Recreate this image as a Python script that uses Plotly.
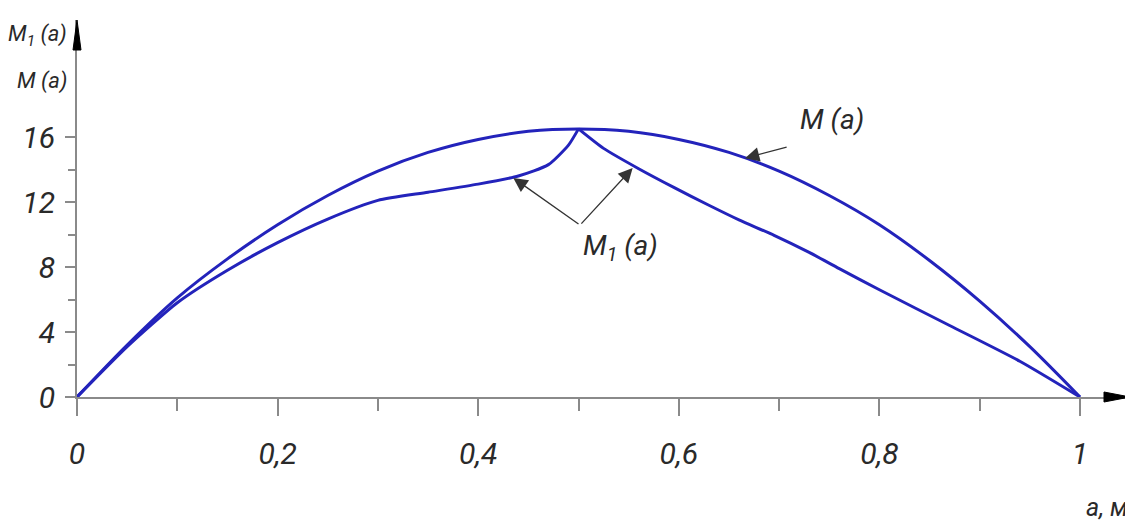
import plotly.graph_objects as go

# ---- data ----
a_M = [0, 0.05, 0.1, 0.15, 0.2, 0.25, 0.3, 0.35, 0.4, 0.45, 0.5,
       0.55, 0.6, 0.65, 0.7, 0.75, 0.8, 0.85, 0.9, 0.95, 1.0]
M_vals = [0, 3.2, 6.1, 8.5, 10.6, 12.4, 13.9, 15.05, 15.85, 16.35, 16.5,
          16.35, 15.85, 15.05, 13.9, 12.4, 10.6, 8.4, 5.9, 3.1, 0]

a_M1 = [0, 0.05, 0.1, 0.15, 0.2, 0.25, 0.3, 0.35, 0.4, 0.44, 0.47, 0.49, 0.5,
        0.525, 0.56, 0.595, 0.63, 0.66, 0.695, 0.73, 0.76, 0.8, 0.87, 0.94, 1.0]
M1_vals = [0, 3.1, 5.8, 7.8, 9.5, 10.95, 12.1, 12.6, 13.1, 13.6, 14.3, 15.5, 16.5,
           15.3, 14.05, 12.9, 11.8, 10.9, 9.95, 8.9, 7.9, 6.6, 4.4, 2.2, 0]

x_tickvals = [0, 0.2, 0.4, 0.6, 0.8, 1.0]
x_ticktext = ["0", "0,2", "0,4", "0,6", "0,8", "1"]
x_minor = [0.1, 0.3, 0.5, 0.7, 0.9]
y_tickvals = [0, 4, 8, 12, 16]
y_ticktext = ["0", "4", "8", "12", "16"]
y_minor = [2, 6, 10, 14]

FONT = "Liberation Sans Narrow, Roboto, Liberation Sans"
TXT = "#2a2a2a"
AX = "#8a8a8a"
BLUE = "#2323bb"

# page body has an 8px margin: figure is sized to fit the window exactly
W, H = 1125, 516
L, R, T, B = 69, 3, 12, 127
px_per_x = 1003.0
px_per_y = 16.25
xmax = (W - L - R) / px_per_x
ymax = (H - T - B) / px_per_y

fig = go.Figure()
fig.add_trace(go.Scatter(x=a_M, y=M_vals, mode="lines",
                         line=dict(color=BLUE, width=3, shape="spline", smoothing=0.8),
                         hoverinfo="skip", showlegend=False))
peak = M1_vals.index(max(M1_vals))
fig.add_trace(go.Scatter(x=a_M1[:peak + 1], y=M1_vals[:peak + 1], mode="lines",
                         line=dict(color=BLUE, width=3, shape="spline", smoothing=0.6),
                         hoverinfo="skip", showlegend=False))
fig.add_trace(go.Scatter(x=a_M1[peak:], y=M1_vals[peak:], mode="lines",
                         line=dict(color=BLUE, width=3, shape="spline", smoothing=0.6),
                         hoverinfo="skip", showlegend=False))

tickfont = dict(family=FONT, size=30, color=TXT, style="italic")

fig.update_xaxes(range=[0, xmax], showgrid=False, zeroline=False,
                 showline=True, linecolor=AX, linewidth=2,
                 tickmode="array", tickvals=x_tickvals, ticktext=x_ticktext,
                 ticks="outside", ticklen=17, tickwidth=1.5, tickcolor=AX,
                 ticklabelstandoff=12, tickfont=tickfont,
                 minor=dict(tickvals=x_minor, ticks="outside", ticklen=12,
                            tickwidth=1.5, tickcolor=AX))
fig.update_yaxes(range=[0, ymax], showgrid=False, zeroline=False,
                 showline=True, linecolor=AX, linewidth=2,
                 tickmode="array", tickvals=y_tickvals, ticktext=y_ticktext,
                 ticks="outside", ticklen=10, tickwidth=1.5, tickcolor=AX,
                 ticklabelstandoff=4, tickfont=tickfont,
                 minor=dict(tickvals=y_minor, ticks="outside", ticklen=7,
                            tickwidth=1.5, tickcolor=AX))

# axis arrowheads
fig.add_shape(type="path", xref="paper", yref="paper",
              xsizemode="pixel", ysizemode="pixel", xanchor=1, yanchor=0,
              path="M -26,-5 L 0,0 L -26,5 Z",
              fillcolor="black", line=dict(color="black", width=1))
fig.add_shape(type="path", xref="paper", yref="paper",
              xsizemode="pixel", ysizemode="pixel", xanchor=0, yanchor=1,
              path="M -4,-30 L 0,0 L 4,-30 Z",
              fillcolor="black", line=dict(color="black", width=1))

lab = dict(family=FONT, size=22, color=TXT, style="italic")
lab_x = dict(family=FONT, size=25, color=TXT, style="italic")
lab2 = dict(family=FONT, size=28, color=TXT, style="italic")
# axis titles
fig.add_annotation(text="M<sub>1</sub> (a)", xref="paper", yref="paper",
                   x=-0.0075, y=(397 - 35) / 377, xanchor="right", yanchor="middle",
                   showarrow=False, font=lab)
fig.add_annotation(text="M (a)", xref="paper", yref="paper",
                   x=-0.0075, y=(397 - 81) / 377, xanchor="right", yanchor="middle",
                   showarrow=False, font=lab)
fig.add_annotation(text="a, м", xref="paper", yref="paper",
                   x=1.0, y=(397 - 507) / 377, xanchor="right", yanchor="middle",
                   showarrow=False, font=lab_x)

# curve labels
fig.add_annotation(text="M (a)", x=0.753, y=17.05, xref="x", yref="y",
                   showarrow=False, font=lab2)
fig.add_annotation(text="M<sub>1</sub> (a)", x=0.542, y=9.17, xref="x", yref="y",
                   showarrow=False, font=lab2)

# leader arrows
arrow = dict(showarrow=True, arrowhead=2, arrowsize=2.2, arrowwidth=1.3,
             arrowcolor="#333333", xref="x", yref="y", axref="x", ayref="y", text="")
fig.add_annotation(x=0.666, y=14.7, ax=0.709, ay=15.4, **arrow)
fig.add_annotation(x=0.435, y=13.48, ax=0.5015, ay=10.58, **arrow)
fig.add_annotation(x=0.554, y=14.09, ax=0.5015, ay=10.58, **arrow)

fig.update_layout(width=W, height=H, margin=dict(l=L, r=R, t=T, b=B),
                  plot_bgcolor="white", paper_bgcolor="white", showlegend=False)

fig.write_html("out.html")
